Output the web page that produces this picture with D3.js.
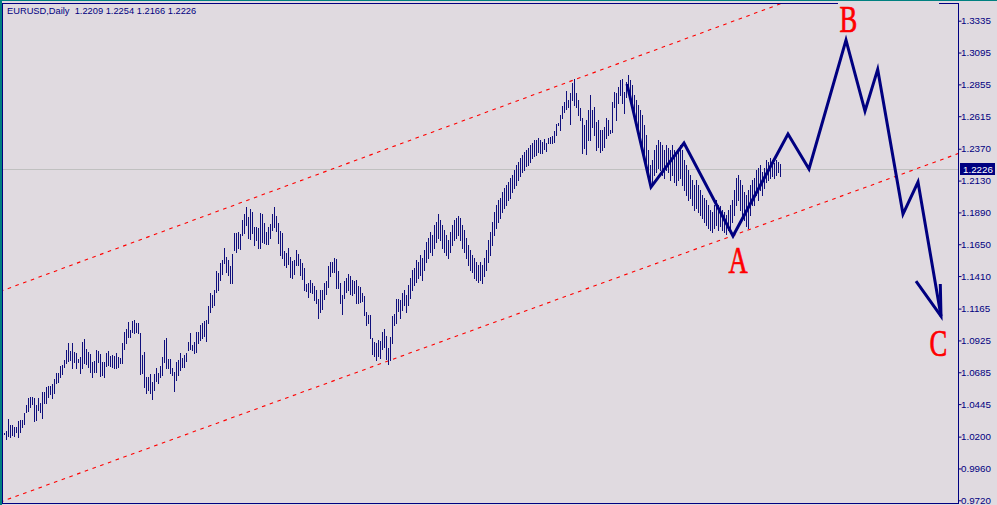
<!DOCTYPE html>
<html><head><meta charset="utf-8">
<script src="https://cdn.jsdelivr.net/npm/d3@7"></script>
<style>
html,body{margin:0;padding:0;background:#e0dae0;overflow:hidden}
svg{display:block}
</style></head><body>
<svg id="chart" width="997" height="505"></svg>
<script>
// ---- data ----
const symbolName = "EURUSD,Daily";
const lastOHLC = [1.2209, 1.2254, 1.2166, 1.2226];
const lastPrice = 1.2226;
const tickLabels = ["1.3335","1.3095","1.2855","1.2615","1.2370","1.2130","1.1890","1.1650","1.1410","1.1165","1.0925","1.0685","1.0445","1.0200","0.9960","0.9720"];

const highs = [
1.0229,1.0244,1.0333,1.0287,1.0287,1.0274,1.0274,1.0317,1.0325,1.0325,
1.0380,1.0438,1.0493,1.0501,1.0501,1.0491,1.0438,1.0491,1.0453,1.0536,
1.0536,1.0576,1.0583,1.0583,1.0596,1.0634,1.0679,1.0679,1.0734,1.0740,
1.0777,1.0853,1.0908,1.0848,1.0908,1.0838,1.0833,1.0787,1.0802,1.0913,
1.0936,1.0861,1.0840,1.0823,1.0760,1.0772,1.0853,1.0848,1.0823,1.0764,
1.0764,1.0833,1.0848,1.0808,1.0815,1.0808,1.0833,1.0798,1.0790,1.0903,
1.0990,1.1008,1.1066,1.1003,1.1074,1.1079,1.1059,1.1054,1.0978,1.0815,
1.0840,1.0652,1.0652,1.0669,1.0613,1.0672,1.0715,1.0682,1.0732,1.0802,
1.0928,1.0941,1.0787,1.0782,1.0715,1.0689,1.0764,1.0777,1.0828,1.0790,
1.0815,1.0828,1.0916,1.0978,1.0891,1.0916,1.0990,1.0990,1.1041,1.1054,
1.1071,1.1079,1.1185,1.1280,1.1267,1.1305,1.1448,1.1431,1.1511,1.1531,
1.1619,1.1556,1.1531,1.1486,1.1576,1.1737,1.1737,1.1745,1.1727,1.1833,
1.1878,1.1928,1.1853,1.1916,1.1895,1.1782,1.1782,1.1770,1.1883,1.1878,
1.1808,1.1745,1.1782,1.1803,1.1878,1.1933,1.1863,1.1808,1.1752,1.1732,
1.1601,1.1581,1.1619,1.1556,1.1526,1.1531,1.1606,1.1576,1.1536,1.1511,
1.1468,1.1350,1.1360,1.1380,1.1360,1.1335,1.1305,1.1235,1.1305,1.1305,
1.1355,1.1375,1.1486,1.1518,1.1518,1.1544,1.1536,1.1450,1.1360,1.1267,
1.1375,1.1393,1.1425,1.1410,1.1380,1.1375,1.1380,1.1335,1.1330,1.1280,
1.1260,1.1141,1.1117,1.1117,1.0946,1.0916,1.0908,1.0928,1.0923,1.0990,
1.1008,1.0958,1.0866,1.0948,1.1109,1.1124,1.1235,1.1235,
1.1229,1.1282,1.1305,1.1267,1.1342,1.1395,1.1455,1.1470,1.1531,1.1516,
1.1568,1.1546,1.1606,1.1666,1.1696,1.1742,1.1719,1.1795,1.1817,1.1878,
1.1832,1.1795,1.1757,1.1719,1.1681,1.1742,1.1795,1.1832,1.1847,1.1863,
1.1847,1.1795,1.1757,1.1696,1.1644,1.1606,1.1568,1.1546,1.1516,1.1493,
1.1516,1.1493,1.1546,1.1606,1.1681,1.1742,1.1817,1.1893,1.1945,1.1983,
1.1998,1.2043,1.2073,1.2096,1.2119,1.2149,1.2172,1.2209,1.2247,1.2270,
1.2300,1.2322,1.2345,1.2360,1.2375,1.2398,1.2413,1.2435,1.2435,1.2450,
1.2435,1.2420,1.2443,1.2413,1.2450,1.2458,1.2466,1.2503,1.2556,1.2564,
1.2624,1.2692,1.2722,1.2805,1.2737,1.2790,1.2865,1.2895,1.2790,1.2737,
1.2677,1.2601,1.2549,1.2586,1.2662,1.2775,1.2662,1.2684,1.2571,1.2586,
1.2511,1.2511,1.2533,1.2601,1.2586,1.2511,1.2722,1.2797,1.2790,1.2835,
1.2888,1.2895,1.2797,1.2873,1.2926,1.2888,1.2850,1.2775,1.2737,1.2699,
1.2662,1.2624,1.2549,1.2473,1.2360,1.2247,1.2285,1.2360,1.2398,1.2435,
1.2420,1.2398,1.2360,1.2398,1.2375,1.2360,1.2398,1.2360,1.2322,1.2360,
1.2398,1.2360,1.2285,1.2247,1.2209,1.2172,1.2134,1.2096,1.2134,1.2096,
1.2058,1.2021,1.1998,1.1983,1.1945,1.1908,1.1893,1.1945,1.1983,1.1945,
1.1938,1.1908,1.1893,1.1870,1.1908,1.1945,1.1983,1.2058,1.2149,1.2172,
1.2134,1.2096,1.2043,1.2021,1.2058,1.2096,1.2134,1.2149,1.2209,1.2224,
1.2247,1.2194,1.2224,1.2285,1.2270,1.2300,1.2285,1.2262,1.2285,1.2270,
1.2254];

const lows = [
1.0221,1.0181,1.0204,1.0199,1.0211,1.0204,1.0236,1.0199,1.0236,1.0272,
1.0295,1.0387,1.0395,1.0425,1.0446,1.0320,1.0325,1.0400,1.0387,1.0342,
1.0453,1.0456,1.0501,1.0521,1.0491,1.0528,1.0606,1.0613,1.0649,1.0672,
1.0725,1.0755,1.0772,1.0777,1.0717,1.0764,1.0717,1.0764,1.0677,1.0719,
1.0755,1.0748,1.0727,1.0689,1.0652,1.0689,1.0689,1.0764,1.0657,1.0664,
1.0652,1.0732,1.0740,1.0732,1.0722,1.0719,1.0719,1.0722,1.0752,1.0755,
1.0861,1.0908,1.0953,1.0953,1.0990,1.0978,1.0986,1.0978,1.0672,1.0677,
1.0576,1.0531,1.0551,1.0526,1.0483,1.0551,1.0621,1.0606,1.0652,1.0664,
1.0764,1.0715,1.0715,1.0677,1.0664,1.0546,1.0626,1.0664,1.0702,1.0727,
1.0727,1.0772,1.0853,1.0858,1.0853,1.0833,1.0836,1.0908,1.0928,1.0945,
1.0958,1.0923,1.1054,1.1141,1.1179,1.1192,1.1292,1.1305,1.1380,1.1425,
1.1506,1.1443,1.1418,1.1360,1.1360,1.1606,1.1593,1.1619,1.1611,1.1720,
1.1732,1.1795,1.1695,1.1687,1.1732,1.1644,1.1682,1.1619,1.1619,1.1669,
1.1657,1.1652,1.1652,1.1695,1.1757,1.1782,1.1752,1.1657,1.1568,1.1548,
1.1493,1.1476,1.1501,1.1405,1.1393,1.1425,1.1493,1.1493,1.1418,1.1385,
1.1305,1.1297,1.1250,1.1292,1.1280,1.1230,1.1209,1.1097,1.1141,1.1162,
1.1235,1.1275,1.1325,1.1412,1.1443,1.1443,1.1322,1.1318,1.1205,1.1122,
1.1242,1.1292,1.1305,1.1275,1.1267,1.1280,1.1209,1.1209,1.1217,1.1225,
1.1117,1.1041,1.1059,1.0941,1.0823,1.0808,1.0777,1.0810,1.0790,1.0858,
1.0878,1.0782,1.0747,1.0777,1.0908,1.1041,1.1054,1.1149,
1.1093,1.1154,1.1191,1.1139,1.1191,1.1244,1.1305,1.1342,1.1365,1.1395,
1.1418,1.1380,1.1455,1.1516,1.1546,1.1591,1.1568,1.1621,1.1666,1.1696,
1.1681,1.1621,1.1591,1.1568,1.1546,1.1591,1.1644,1.1681,1.1696,1.1719,
1.1681,1.1621,1.1591,1.1546,1.1493,1.1455,1.1440,1.1395,1.1380,1.1365,
1.1380,1.1357,1.1410,1.1455,1.1516,1.1568,1.1644,1.1719,1.1772,1.1817,
1.1847,1.1893,1.1923,1.1945,1.1983,1.1998,1.2043,1.2073,1.2096,1.2134,
1.2164,1.2194,1.2209,1.2239,1.2247,1.2270,1.2300,1.2315,1.2322,1.2345,
1.2337,1.2337,1.2368,1.2352,1.2413,1.2413,1.2413,1.2420,1.2473,1.2549,
1.2511,1.2601,1.2647,1.2669,1.2684,1.2556,1.2737,1.2699,1.2684,1.2624,
1.2586,1.2337,1.2375,1.2330,1.2435,1.2435,1.2533,1.2473,1.2360,1.2383,
1.2345,1.2360,1.2383,1.2450,1.2473,1.2488,1.2496,1.2684,1.2586,1.2714,
1.2775,1.2714,1.2639,1.2760,1.2812,1.2737,1.2662,1.2601,1.2549,1.2511,
1.2435,1.2360,1.2285,1.2209,1.2134,1.2073,1.2096,1.2172,1.2194,1.2224,
1.2209,1.2172,1.2149,1.2209,1.2194,1.2134,1.2172,1.2119,1.2096,1.2134,
1.2149,1.2096,1.2058,1.2021,1.1983,1.1998,1.1945,1.1908,1.1923,1.1893,
1.1870,1.1847,1.1817,1.1795,1.1772,1.1757,1.1742,1.1772,1.1795,1.1757,
1.1787,1.1757,1.1742,1.1727,1.1757,1.1772,1.1817,1.1870,1.1945,1.1983,
1.1908,1.1870,1.1832,1.1787,1.1772,1.1870,1.1945,1.1945,1.2021,1.1983,
1.2058,1.2021,1.2073,1.2119,1.2134,1.2149,1.2164,1.2149,1.2172,1.2194,
1.2166];

// channel (bar index, price)
const upperIdx = [0, 388];
const upperPrice = [1.1305, 1.3461];
const lowerIdx = [0, 476.5];
const lowerPrice = [0.9717, 1.2330];

// wave projection (bar index, price)
const waveIdx   = [311.5, 323.5, 340, 364.5, 392, 402.5, 421, 430.5, 436.85, 449.5, 457, 468.5];
const wavePrice = [1.2858, 1.2081, 1.2413, 1.1712, 1.2481, 1.2217, 1.3189, 1.2654, 1.2968, 1.1877, 1.2119, 1.1108];
const arrowIdx   = [456, 468.5, 468.15];
const arrowPrice = [1.1372, 1.1108, 1.1350];

const labelText  = ["A", "B", "C"];
const labelIdx   = [367, 422.25, 467.25];
const labelPrice = [1.1433, 1.3250, 1.0807];

// ---- drawing ----
(function () {
const W = 997, H = 505;
const pL = 2, pR = 958, pT = 3, pB = 503;
const svg = d3.select("#chart");
const BG = "#e0dae0", NAVY = "#000080", BAR = "#10107c";

const x = d3.scaleLinear().domain([0, 477]).range([4, 958]);
const y = d3.scaleLinear().domain([0.9720, 1.3335]).range([500.3, 20.7]);

svg.append("rect").attr("width", W).attr("height", H).attr("fill", BG);

svg.append("defs").append("clipPath").attr("id", "plot")
  .append("rect").attr("x", pL + 1).attr("y", pT + 1)
  .attr("width", pR - pL - 1).attr("height", pB - pT - 1);

const plot = svg.append("g").attr("clip-path", "url(#plot)");

// current price line
const py = Math.round(y(lastPrice)) + 1.5;
plot.append("line").attr("x1", pL).attr("x2", pR).attr("y1", py).attr("y2", py)
  .attr("stroke", "#c0c0c0").attr("stroke-width", 1);

// channel lines
const chan = (idx, pr) => {
  const s = (pr[1] - pr[0]) / (idx[1] - idx[0]);
  const i0 = -2, i1 = 480;
  return [[i0, pr[0] + s * (i0 - idx[0])], [i1, pr[0] + s * (i1 - idx[0])]];
};
[[upperIdx, upperPrice], [lowerIdx, lowerPrice]].forEach(([ix, pr]) => {
  const pts = chan(ix, pr);
  plot.append("line")
    .attr("x1", x(pts[0][0])).attr("y1", y(pts[0][1]))
    .attr("x2", x(pts[1][0])).attr("y2", y(pts[1][1]))
    .attr("stroke", "#ff0000").attr("stroke-width", 1.1)
    .attr("stroke-dasharray", "3.6,4.6");
});

// bars
const n = Math.min(highs.length, lows.length);
const bars = d3.range(n).map(i => ({i, h: highs[i], l: lows[i]}));
plot.append("g").selectAll("rect").data(bars).join("rect")
  .attr("x", d => Math.round(x(d.i)))
  .attr("y", d => Math.round(y(d.h)))
  .attr("width", 1)
  .attr("height", d => Math.max(1, Math.round(y(d.l)) - Math.round(y(d.h)) + 1))
  .attr("fill", BAR);

// wave
const line = d3.line().x(d => x(d[0])).y(d => y(d[1]));
plot.append("path")
  .datum(waveIdx.map((v, k) => [v, wavePrice[k]]))
  .attr("d", line).attr("fill", "none").attr("stroke", NAVY)
  .attr("stroke-width", 3).attr("stroke-linejoin", "miter").attr("stroke-miterlimit", 10);
plot.append("path")
  .datum(arrowIdx.map((v, k) => [v, arrowPrice[k]]))
  .attr("d", line).attr("fill", "none").attr("stroke", NAVY)
  .attr("stroke-width", 3).attr("stroke-linejoin", "miter").attr("stroke-miterlimit", 10);

// wave labels
plot.append("g").selectAll("text").data(labelText.map((t, k) => ({t, i: labelIdx[k], p: labelPrice[k]})))
  .join("text")
  .attr("transform", d => `translate(${x(d.i)},${y(d.p)}) scale(0.72,1)`)
  .attr("text-anchor", "middle")
  .attr("font-family", "'Liberation Serif','Times New Roman',serif")
  .attr("font-size", 37)
  .attr("fill", "#ff0000")
  .attr("stroke", "#ff0000").attr("stroke-width", 0.7)
  .text(d => d.t);

// frame
svg.append("rect").attr("x", 0).attr("y", 0).attr("width", W).attr("height", 1).attr("fill", "#008080");
svg.append("rect").attr("x", 0).attr("y", 0).attr("width", 2).attr("height", H).attr("fill", "#008080");
const frame = svg.append("g").attr("stroke", NAVY).attr("stroke-width", 1).attr("fill", "none");
frame.append("line").attr("x1", pL + 0.5).attr("x2", pL + 0.5).attr("y1", pT).attr("y2", pB + 1);
frame.append("line").attr("x1", pR + 0.5).attr("x2", pR + 0.5).attr("y1", pT).attr("y2", pB + 1);
frame.append("line").attr("x1", pL).attr("x2", pR + 1).attr("y1", pB + 0.5).attr("y2", pB + 0.5);
frame.append("line").attr("x1", pL).attr("x2", 838).attr("y1", pT + 0.5).attr("y2", pT + 0.5);
frame.append("line").attr("x1", 939).attr("x2", pR + 1).attr("y1", pT + 0.5).attr("y2", pT + 0.5);

// price axis
const axis = d3.axisRight(y)
  .tickValues(tickLabels.map(Number))
  .tickFormat((d, k) => tickLabels[k])
  .tickSize(3).tickSizeOuter(0).tickPadding(0);
const ag = svg.append("g").attr("transform", `translate(${pR + 0.5},0)`).call(axis);
ag.select(".domain").remove();
ag.selectAll(".tick line").attr("stroke", NAVY);
ag.selectAll(".tick text")
  .attr("fill", NAVY)
  .attr("font-family", "'Liberation Sans',Arial,sans-serif")
  .attr("font-size", 9.8)
  .attr("x", 2.5);

// current price tag
const tag = svg.append("g").attr("transform", `translate(${pR + 2},${Math.round(y(lastPrice)) - 5})`);
tag.append("rect").attr("width", 35).attr("height", 12).attr("fill", NAVY);
tag.append("text").attr("x", 3).attr("y", 9.5).attr("fill", "#ffffff")
  .attr("font-family", "'Liberation Sans',Arial,sans-serif").attr("font-size", 9.8)
  .text(d3.format(".4f")(lastPrice));

// header
svg.append("text").attr("x", 7).attr("y", 14)
  .attr("fill", NAVY)
  .attr("font-family", "'Liberation Sans',Arial,sans-serif").attr("font-size", 9.3)
  .attr("xml:space", "preserve")
  .text(symbolName + "  " + lastOHLC.map(d3.format(".4f")).join(" "));
})();
</script>
</body></html>
